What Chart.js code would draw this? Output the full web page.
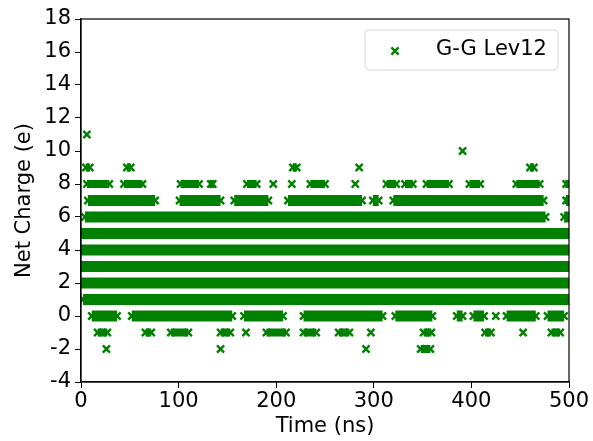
<!DOCTYPE html>
<html>
<head>
<meta charset="utf-8">
<script src="https://cdn.jsdelivr.net/npm/chart.js@4.4.1/dist/chart.umd.min.js"></script>
<style>
  html, body { margin: 0; padding: 0; background: #fff; }
  #wrap { width: 593px; height: 441px; }
</style>
</head>
<body>
<div id="wrap"><canvas id="canvas" width="593" height="441"></canvas></div>
<script>
// net charge occupancy per level: [start, end] time spans in ns (start == end is a single frame)
var charge11 = [[6, 6]];
var charge10 = [[391, 391]];
var charge9 = [[5, 9], [47, 51], [217, 221], [285, 285], [460, 464]];
var charge8 = [[6, 29], [44, 63], [102, 121], [133, 135], [170, 180], [197, 197], [216, 216],
  [235, 250], [281, 281], [313, 323], [332, 340], [354, 377], [398, 409], [446, 470], [497, 500]];
var charge7 = [[7, 76], [101, 143], [157, 192], [212, 288], [299, 305], [320, 474], [497, 500]];
var charge6 = [[4, 476], [495, 500]];
var charge5 = [[0, 500]];
var charge4 = [[0, 500]];
var charge3 = [[0, 500]];
var charge2 = [[0, 500]];
var charge1 = [[2, 500]];
var charge0 = [[11, 37], [52, 155], [167, 207], [228, 309], [322, 360], [385, 391], [402, 413],
  [425, 425], [436, 466], [478, 495]];
var chargeM1 = [[17, 27], [66, 72], [92, 110], [143, 153], [169, 169], [190, 210], [228, 241],
  [264, 275], [297, 297], [351, 359], [414, 420], [453, 453], [482, 491]];
var chargeM2 = [[26, 26], [143, 143], [292, 292], [348, 358]];

// levels visited almost all the time vs. only now and then
var denseLevels = [7, 6, 5, 4, 3, 2, 1, 0];
var denseSpans = [charge7, charge6, charge5, charge4, charge3, charge2, charge1, charge0];
var sparseLevels = [11, 10, 9, 8, -1, -2];
var sparseSpans = [charge11, charge10, charge9, charge8, chargeM1, chargeM2];

var timeTicks = [0, 100, 200, 300, 400, 500];
var chargeTicks = [-4, -2, 0, 2, 4, 6, 8, 10, 12, 14, 16, 18];
var seriesName = "G-G Lev12";

function spanPoints(levels, spans) {
  var pts = [];
  levels.forEach(function(q, i) {
    spans[i].forEach(function(s) {
      pts.push({x: s[0], y: q});
      if (s[1] !== s[0]) pts.push({x: s[1], y: q});
      pts.push({x: s[1], y: null});
    });
  });
  return pts;
}

var GREEN = '#008000';
var FONT = '"DejaVu Sans", sans-serif';

// axes box plus legend in the upper right corner
var frameAndLegend = {
  id: 'frameAndLegend',
  afterDraw: function(chart) {
    var ctx = chart.ctx, a = chart.chartArea;
    ctx.save();
    ctx.strokeStyle = '#000';
    ctx.lineWidth = 1.2;
    ctx.strokeRect(a.left, a.top, a.right - a.left, a.bottom - a.top);

    var bx = 365, by = 30, bw = 193, bh = 40, r = 4;
    ctx.beginPath();
    ctx.moveTo(bx + r, by);
    ctx.arcTo(bx + bw, by, bx + bw, by + bh, r);
    ctx.arcTo(bx + bw, by + bh, bx, by + bh, r);
    ctx.arcTo(bx, by + bh, bx, by, r);
    ctx.arcTo(bx, by, bx + bw, by, r);
    ctx.closePath();
    ctx.fillStyle = 'rgba(255,255,255,0.8)';
    ctx.fill();
    ctx.strokeStyle = '#d6d6d6';
    ctx.lineWidth = 1;
    ctx.stroke();

    var mx = 395, my = by + bh / 2 + 1, d = 3.6;
    ctx.strokeStyle = GREEN;
    ctx.lineWidth = 2.4;
    ctx.beginPath();
    ctx.moveTo(mx - d, my - d); ctx.lineTo(mx + d, my + d);
    ctx.moveTo(mx - d, my + d); ctx.lineTo(mx + d, my - d);
    ctx.stroke();

    ctx.fillStyle = '#000';
    ctx.font = '21px ' + FONT;
    ctx.textBaseline = 'middle';
    ctx.fillText(seriesName, 436, by + bh / 2);
    ctx.restore();
  }
};

var markStyle = {
  showLine: true,
  spanGaps: false,
  borderColor: GREEN,
  borderCapStyle: 'butt',
  backgroundColor: GREEN,
  pointStyle: 'crossRot',
  pointRadius: 5,
  pointHoverRadius: 5,
  pointBorderColor: GREEN,
  pointBorderWidth: 2.4,
  clip: 0
};

var ctx = document.getElementById("canvas");
var chart = new Chart(ctx, {
  type: 'scatter',
  data: {
    datasets: [
      Object.assign({ label: seriesName, data: spanPoints(denseLevels, denseSpans), borderWidth: 11 }, markStyle),
      Object.assign({ label: seriesName, data: spanPoints(sparseLevels, sparseSpans), borderWidth: 8 }, markStyle)
    ]
  },
  plugins: [frameAndLegend],
  options: {
    responsive: false,
    animation: false,
    events: [],
    layout: { padding: { left: 0, top: 19, right: 24, bottom: 0 } },
    plugins: {
      legend: { display: false },
      tooltip: { enabled: false }
    },
    scales: {
      x: {
        type: 'linear',
        min: 0,
        max: 500,
        afterFit: function(s) { s.height = 59; },
        afterBuildTicks: function(s) { s.ticks = timeTicks.map(function(v) { return {value: v}; }); },
        grid: { drawOnChartArea: false, drawTicks: true, tickLength: 6, color: '#000', tickWidth: 1 },
        border: { color: '#000', width: 1.2 },
        ticks: { color: '#000', font: { family: FONT, size: 21 }, padding: 1, maxRotation: 0 },
        title: { display: true, text: 'Time (ns)', color: '#000', font: { family: FONT, size: 21 }, padding: { top: 0, bottom: 2 } }
      },
      y: {
        type: 'linear',
        min: -4,
        max: 18,
        afterFit: function(s) { s.width = 81; },
        afterBuildTicks: function(s) { s.ticks = chargeTicks.map(function(v) { return {value: v}; }); },
        grid: { drawOnChartArea: false, drawTicks: true, tickLength: 6, color: '#000', tickWidth: 1 },
        border: { color: '#000', width: 1.2 },
        ticks: { color: '#000', font: { family: FONT, size: 21 }, padding: 4 },
        title: { display: true, text: 'Net Charge (e)', color: '#000', font: { family: FONT, size: 21 }, padding: { top: 12, bottom: 0 } }
      }
    }
  }
});
</script>
</body>
</html>
